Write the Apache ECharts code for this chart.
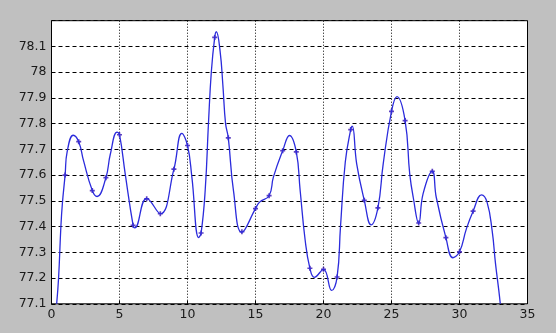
<!DOCTYPE html>
<html>
<head>
<meta charset="utf-8">
<script src="https://cdn.jsdelivr.net/npm/echarts@6/dist/echarts.min.js"></script>
<style>
  html, body { margin: 0; padding: 0; background: #c0c0c0; }
  #chart { width: 556px; height: 333px; }
</style>
</head>
<body>
<div id="chart"></div>
<script>
// Sample markers
var markerX = [1,2,3,4,5,6,7,8,9,10,11,12,13,14,15,16,17,18,19,20,21,22,23,24,25,26,27,28,29,30,31];
var markerY = [77.60,77.73,77.54,77.59,77.757,77.405,77.508,77.45,77.623,77.715,77.375,78.135,77.745,77.38,77.47,77.52,77.695,77.69,77.238,77.234,77.204,77.777,77.502,77.473,77.848,77.812,77.414,77.615,77.357,77.302,77.46];

// Points
var curveX = [0.38,0.52,0.69,0.80,1,1.15,1.6,2,2.35,3,3.35,4,4.32,4.82,5,5.42,6,6.12,7,8,9,9.58,10,10.32,10.82,11,11.3,11.55,11.75,12,12.12,12.4,12.6,12.8,13,13.38,14,15,15.3,16,16.32,17,17.5,18,18.28,18.65,19,19.33,20,20.6,21,21.25,21.6,22,22.12,22.44,23,23.5,24,24.39,25,25.4,26,26.34,26.6,27,27.32,28,28.29,29,29.52,30,30.5,31,31.62,32.03,32.4,32.65,32.89,33.0];
var curveY = [77.10,77.20,77.40,77.49,77.60,77.69,77.755,77.73,77.657,77.54,77.517,77.59,77.68,77.767,77.757,77.605,77.405,77.395,77.51,77.45,77.623,77.762,77.715,77.593,77.357,77.375,77.54,77.81,78.0,78.135,78.157,78.08,77.95,77.8,77.745,77.54,77.378,77.47,77.495,77.52,77.593,77.695,77.754,77.69,77.542,77.348,77.238,77.203,77.234,77.152,77.204,77.40,77.65,77.777,77.79,77.644,77.502,77.407,77.473,77.644,77.848,77.905,77.812,77.605,77.513,77.413,77.527,77.615,77.514,77.357,77.279,77.302,77.39,77.46,77.523,77.494,77.384,77.255,77.152,77.10];

var xMin = 0, xMax = 35, xStep = 5;
var yMin = 77.1, yMax = 78.2, yStep = 0.1;

function pairs(xs, ys) { return xs.map(function (x, i) { return [x, ys[i]]; }); }

var chart = echarts.init(document.getElementById('chart'), null, { renderer: 'canvas' });
var labelStyle = { color: '#1a1a1a', fontFamily: 'DejaVu Sans', fontSize: 12.5 };
chart.setOption({
  backgroundColor: '#c0c0c0',
  animation: false,
  grid: { left: 51.5, right: 28.5, top: 20.7, bottom: 29.2, show: true, backgroundColor: '#ffffff', borderColor: '#000000', borderWidth: 1 },
  xAxis: {
    type: 'value', min: xMin, max: xMax, interval: xStep,
    axisLine: { show: false },
    axisTick: { show: true, inside: true, length: 3, lineStyle: { color: '#000' } },
    axisLabel: Object.assign({ margin: 4, showMinLabel: true, showMaxLabel: true }, labelStyle),
    splitLine: { show: true, lineStyle: { color: '#000000', type: [1, 2], width: 1 } }
  },
  yAxis: {
    type: 'value', min: yMin, max: yMax, interval: yStep,
    axisLine: { show: false },
    axisTick: { show: true, inside: true, length: 3, lineStyle: { color: '#000' } },
    axisLabel: Object.assign({ margin: 5, showMinLabel: true, showMaxLabel: false,
      formatter: function (v) { return String(Math.round(v * 10) / 10); } }, labelStyle),
    splitLine: { show: true, lineStyle: { color: '#000000', type: [4, 3], width: 1 } }
  },
  series: [
    {
      type: 'line', data: pairs(curveX, curveY), smooth: 0.45,
      showSymbol: false, clip: true,
      lineStyle: { color: '#2b2bdc', width: 1.3 }
    },
    {
      type: 'scatter', data: pairs(markerX, markerY),
      symbol: 'path://M-1,-3h2v2h2v2h-2v2h-2v-2h-2v-2h2z', symbolSize: 5,
      itemStyle: { color: '#3510b0' }
    }
  ]
});
</script>
</body>
</html>
